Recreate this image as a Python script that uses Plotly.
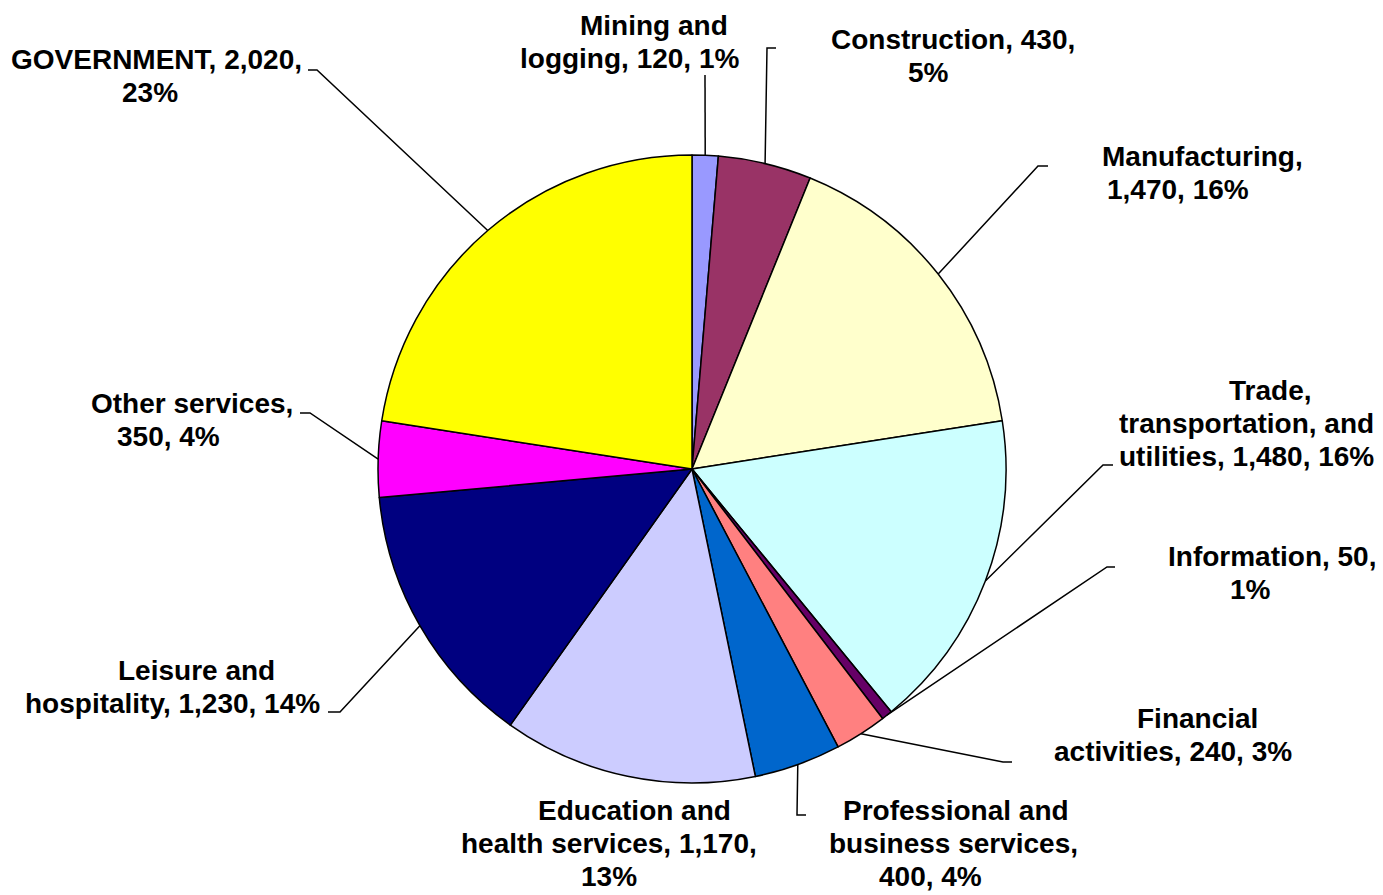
import math
import plotly.graph_objects as go

# ---------------- data ----------------
categories = [
    "Mining and logging", "Construction", "Manufacturing",
    "Trade, transportation, and utilities", "Information",
    "Financial activities", "Professional and business services",
    "Education and health services", "Leisure and hospitality",
    "Other services", "GOVERNMENT",
]
values = [120, 430, 1470, 1480, 50, 240, 400, 1170, 1230, 350, 2020]
# percentages as printed on the chart (computed from unrounded source data)
percent_labels = ["1%", "5%", "16%", "16%", "1%", "3%", "4%", "13%", "14%", "4%", "23%"]
colors = ["#9999FF", "#993366", "#FFFFCC", "#CCFFFF", "#660066", "#FF8080",
          "#0066CC", "#CCCCFF", "#000080", "#FF00FF", "#FFFF00"]
# label line-break templates ({v} value, {p} percent)
label_templates = [
    "Mining and<br>logging, {v}, {p}",
    "Construction, {v},<br>{p}",
    "Manufacturing,<br>{v}, {p}",
    "Trade,<br>transportation, and<br>utilities, {v}, {p}",
    "Information, {v},<br>{p}",
    "Financial<br>activities, {v}, {p}",
    "Professional and<br>business services,<br>{v}, {p}",
    "Education and<br>health services, {v},<br>{p}",
    "Leisure and<br>hospitality, {v}, {p}",
    "Other services,<br>{v}, {p}",
    "GOVERNMENT, {v},<br>{p}",
]

# ---------------- layout (pixels) ----------------
W, H = 1383, 895
CX, CY, R = 692, 469, 314
LINE_H = 33
# label block centres
label_pos = [(629, 42), (953, 56), (1202, 173), (1246, 423), (1272, 573),
             (1173, 735), (953, 843), (609, 843), (172, 687), (192, 420),
             (156, 76)]
# per-line horizontal offsets of label lines
line_dx = [[25, 0], [0, -25], [0, -24], [24, 0, 0], [0, -22], [24, 0],
           [3, 0, -23], [25, 0, 0], [25, 0], [0, -24], [0, -6]]
# leader line elbow + end points (None = no line)
leader = [
    [(705, 75)],
    [(767, 48), (776, 48)],
    [(1038, 166), (1048, 166)],
    [(1103, 465), (1113, 465)],
    [(1107, 567), (1115, 567)],
    [(1003, 762), (1012, 762)],
    [(797, 815), (806, 815)],
    None,
    [(340, 712), (328, 712)],
    [(310, 413), (300, 413)],
    [(317, 70), (308, 70)],
]

def px(x):
    return x / W

def py(y):
    return 1 - y / H

total = sum(values)
texts = [t.format(v=f"{v:,}", p=p) for v, p, t in zip(values, percent_labels, label_templates)]

fig = go.Figure(go.Pie(
    labels=categories, values=values, sort=False, direction="clockwise",
    rotation=0, textinfo="none", hoverinfo="label+value",
    marker=dict(colors=colors, line=dict(color="black", width=1.5)),
    domain=dict(x=[px(CX - R), px(CX + R)], y=[py(CY + R), py(CY - R)]),
    showlegend=False,
))

font = dict(family="Liberation Sans, Arial, sans-serif", size=28, color="black")
annotations = []
shapes = []
cum = 0
for i, v in enumerate(values):
    mid = (cum + v / 2) / total * 2 * math.pi
    cum += v
    ex = CX + R * math.sin(mid)
    ey = CY - R * math.cos(mid)
    lx, ly = label_pos[i]
    lines = texts[i].split("<br>")
    n = len(lines)
    for k, line in enumerate(lines):
        yy = ly + (k - (n - 1) / 2) * LINE_H
        xx = lx + line_dx[i][k]
        annotations.append(dict(
            x=px(xx), y=py(yy), xref="paper", yref="paper", text="<b>" + line + "</b>",
            showarrow=False, xanchor="center", yanchor="middle", align="center", font=font,
        ))
    if leader[i]:
        pts = [(ex, ey)] + leader[i]
        path = "M " + " L ".join(f"{px(a)},{py(b)}" for a, b in pts)
        shapes.append(dict(type="path", path=path, xref="paper", yref="paper",
                           line=dict(color="black", width=1.5)))

fig.update_layout(
    width=W, height=H, margin=dict(l=0, r=0, t=0, b=0),
    paper_bgcolor="white", plot_bgcolor="white",
    annotations=annotations, shapes=shapes,
)
fig.write_html("out.html", config={"displayModeBar": False},
               post_script="document.body.style.margin='0';document.body.style.overflow='hidden';")
